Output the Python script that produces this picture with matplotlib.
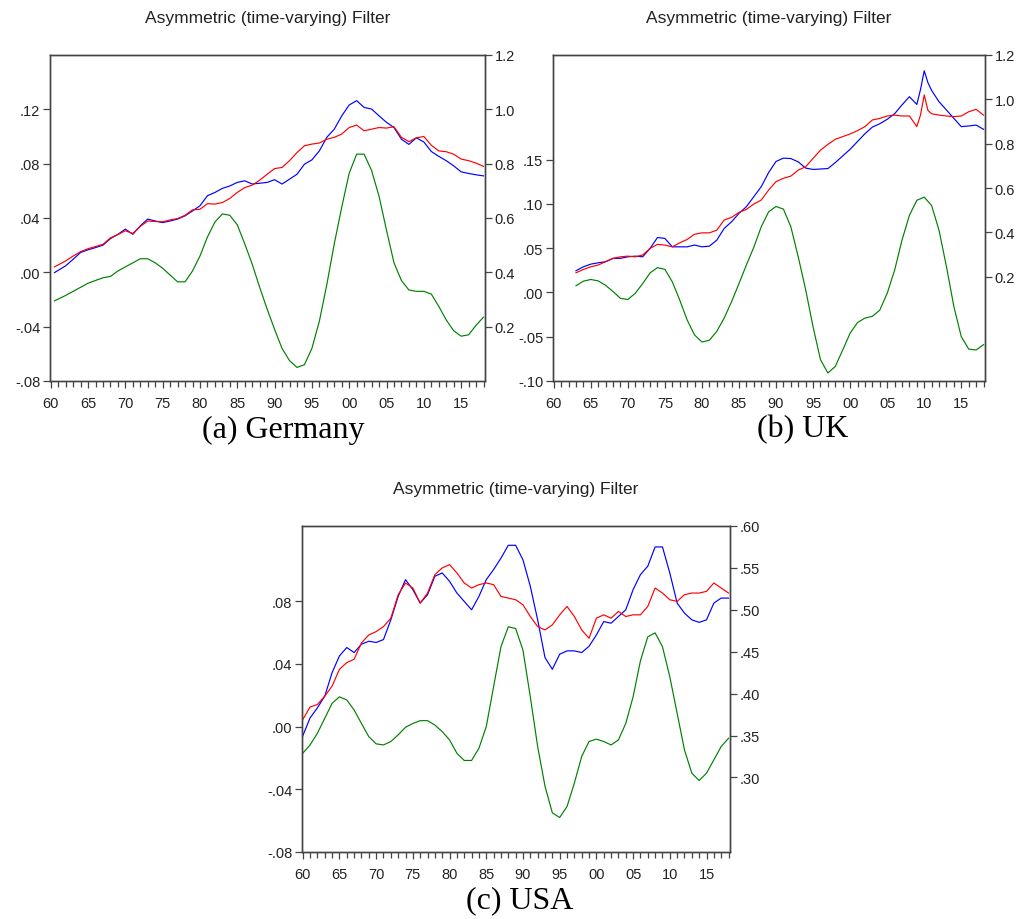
import matplotlib
matplotlib.use("Agg")
import matplotlib.pyplot as plt
from matplotlib.ticker import FixedLocator, MultipleLocator, FuncFormatter

plt.rcParams['font.family'] = ['Liberation Sans', 'DejaVu Sans']

TITLE = "Asymmetric (time-varying) Filter"

# ---- (a) Germany ----
years_a = [1960.5, 1962, 1963, 1964, 1965, 1966, 1967, 1968, 1969, 1970,
           1971, 1972, 1973, 1974, 1975, 1976, 1977, 1978, 1979, 1980,
           1981, 1982, 1983, 1984, 1985, 1986, 1987, 1988, 1989, 1990,
           1991, 1992, 1993, 1994, 1995, 1996, 1997, 1998, 1999, 2000,
           2001, 2002, 2003, 2004, 2005, 2006, 2007, 2008, 2009, 2010,
           2011, 2012, 2013, 2014, 2015, 2016, 2017, 2018]
cycle_a = [-0.021, -0.017, -0.014, -0.011, -0.008, -0.006, -0.004, -0.003, 0.001, 0.004,
           0.007, 0.010, 0.010, 0.007, 0.003, -0.002, -0.007, -0.007, 0.001, 0.012,
           0.026, 0.037, 0.043, 0.042, 0.035, 0.021, 0.006, -0.011, -0.027, -0.042,
           -0.056, -0.065, -0.070, -0.068, -0.056, -0.036, -0.009, 0.021, 0.048, 0.073,
           0.087, 0.087, 0.075, 0.056, 0.031, 0.007, -0.006, -0.013, -0.014, -0.014,
           -0.016, -0.025, -0.035, -0.043, -0.047, -0.046, -0.039, -0.033]
actual_a = [0.399, 0.424, 0.448, 0.473, 0.483, 0.491, 0.500, 0.524, 0.540, 0.559,
            0.540, 0.571, 0.596, 0.589, 0.583, 0.589, 0.596, 0.608, 0.626, 0.645,
            0.682, 0.694, 0.709, 0.718, 0.731, 0.737, 0.725, 0.728, 0.731, 0.741,
            0.725, 0.743, 0.761, 0.798, 0.814, 0.847, 0.897, 0.927, 0.976, 1.016,
            1.032, 1.007, 1.001, 0.976, 0.952, 0.933, 0.890, 0.871, 0.895, 0.880,
            0.845, 0.827, 0.811, 0.792, 0.770, 0.764, 0.759, 0.755]
trend_a = [0.420, 0.442, 0.460, 0.476, 0.487, 0.495, 0.503, 0.527, 0.539, 0.553,
           0.543, 0.569, 0.589, 0.587, 0.586, 0.593, 0.598, 0.610, 0.630, 0.632,
           0.653, 0.651, 0.657, 0.672, 0.694, 0.712, 0.721, 0.739, 0.761, 0.782,
           0.786, 0.811, 0.841, 0.866, 0.872, 0.876, 0.890, 0.897, 0.909, 0.933,
           0.942, 0.921, 0.927, 0.933, 0.931, 0.936, 0.897, 0.881, 0.895, 0.900,
           0.868, 0.847, 0.844, 0.835, 0.817, 0.811, 0.802, 0.790]

# ---- (b) UK ----
years_b_cycle = [1963, 1964, 1965, 1966, 1967, 1968, 1969, 1970, 1971, 1972,
                 1973, 1974, 1975, 1976, 1977, 1978, 1979, 1980, 1981, 1982,
                 1983, 1984, 1985, 1986, 1987, 1988, 1989, 1990, 1991, 1992,
                 1993, 1994, 1995, 1996, 1997, 1998, 1999, 2000, 2001, 2002,
                 2003, 2004, 2005, 2006, 2007, 2008, 2009, 2010, 2011, 2012,
                 2013, 2014, 2015, 2016, 2017, 2018]
cycle_b = [0.0075, 0.0127, 0.0146, 0.013, 0.008, 0.001, -0.0067, -0.008, -0.001, 0.010,
           0.022, 0.028, 0.026, 0.012, -0.0086, -0.031, -0.048, -0.056, -0.054, -0.044,
           -0.029, -0.0105, 0.010, 0.031, 0.051, 0.074, 0.091, 0.097, 0.094, 0.074,
           0.040, 0.003, -0.039, -0.076, -0.091, -0.0835, -0.065, -0.046, -0.034, -0.029,
           -0.027, -0.020, -0.001, 0.025, 0.059, 0.087, 0.104, 0.1075, 0.098, 0.070,
           0.029, -0.016, -0.050, -0.064, -0.065, -0.059]
years_b = [1963, 1964, 1965, 1966, 1967, 1968, 1969, 1970, 1971, 1972,
           1973, 1974, 1975, 1976, 1977, 1978, 1979, 1980, 1981, 1982,
           1983, 1984, 1985, 1986, 1987, 1988, 1989, 1990, 1991, 1992,
           1993, 1994, 1995, 1996, 1997, 1998, 1999, 2000, 2001, 2002,
           2003, 2004, 2005, 2006, 2007, 2008, 2009, 2009.5, 2010, 2010.5,
           2011, 2012, 2013, 2014, 2015, 2016, 2017, 2018]
actual_b = [0.227, 0.245, 0.257, 0.263, 0.268, 0.283, 0.283, 0.290, 0.293, 0.290,
            0.328, 0.377, 0.373, 0.335, 0.335, 0.335, 0.343, 0.335, 0.338, 0.365,
            0.418, 0.448, 0.486, 0.516, 0.561, 0.606, 0.670, 0.720, 0.735, 0.733,
            0.718, 0.690, 0.684, 0.686, 0.688, 0.715, 0.745, 0.775, 0.810, 0.845,
            0.875, 0.890, 0.910, 0.935, 0.975, 1.012, 0.977, 1.045, 1.129, 1.075,
            1.040, 0.989, 0.952, 0.914, 0.877, 0.880, 0.884, 0.865]
trend_b = [0.218, 0.233, 0.245, 0.253, 0.268, 0.283, 0.290, 0.293, 0.290, 0.298,
           0.328, 0.346, 0.343, 0.335, 0.353, 0.368, 0.392, 0.398, 0.398, 0.410,
           0.456, 0.468, 0.490, 0.504, 0.528, 0.546, 0.591, 0.629, 0.644, 0.654,
           0.681, 0.696, 0.734, 0.771, 0.797, 0.820, 0.832, 0.844, 0.859, 0.877,
           0.907, 0.914, 0.925, 0.929, 0.925, 0.925, 0.877, 0.930, 1.020, 0.950,
           0.935, 0.929, 0.925, 0.922, 0.925, 0.944, 0.955, 0.929]

# ---- (c) USA ----
years_c = [1960, 1961, 1962, 1963, 1964, 1965, 1966, 1967, 1968, 1969,
           1970, 1971, 1972, 1973, 1974, 1975, 1976, 1977, 1978, 1979,
           1980, 1981, 1982, 1983, 1984, 1985, 1986, 1987, 1988, 1989,
           1990, 1991, 1992, 1993, 1994, 1995, 1996, 1997, 1998, 1999,
           2000, 2001, 2002, 2003, 2004, 2005, 2006, 2007, 2008, 2009,
           2010, 2011, 2012, 2013, 2014, 2015, 2016, 2017, 2018]
cycle_c = [-0.017, -0.0117, -0.0042, 0.0053, 0.0149, 0.019, 0.017, 0.0106, 0.002, -0.0064,
           -0.011, -0.0117, -0.0095, -0.0053, -0.0004, 0.002, 0.0038, 0.0038, 0.001, -0.0032,
           -0.0085, -0.017, -0.0216, -0.0216, -0.0138, 0.000, 0.0255, 0.051, 0.0637, 0.0626,
           0.0488, 0.019, -0.0127, -0.038, -0.055, -0.058, -0.051, -0.036, -0.019, -0.0095,
           -0.008, -0.0095, -0.0117, -0.0085, 0.002, 0.019, 0.042, 0.0573, 0.0598, 0.051,
           0.0318, 0.0085, -0.0149, -0.0297, -0.0344, -0.0297, -0.0212, -0.0127, -0.0074]
actual_c = [0.3495, 0.371, 0.383, 0.397, 0.425, 0.445, 0.455, 0.449, 0.459, 0.4625,
            0.461, 0.4645, 0.488, 0.516, 0.536, 0.524, 0.508, 0.518, 0.540, 0.544,
            0.534, 0.520, 0.510, 0.500, 0.516, 0.536, 0.548, 0.5616, 0.577, 0.577,
            0.5596, 0.528, 0.488, 0.443, 0.429, 0.447, 0.451, 0.451, 0.449, 0.4565,
            0.470, 0.486, 0.484, 0.492, 0.500, 0.524, 0.542, 0.552, 0.575, 0.575,
            0.544, 0.508, 0.496, 0.488, 0.485, 0.488, 0.508, 0.514, 0.514]
trend_c = [0.369, 0.384, 0.387, 0.397, 0.409, 0.429, 0.437, 0.441, 0.4605, 0.470,
           0.474, 0.480, 0.490, 0.518, 0.532, 0.526, 0.508, 0.520, 0.542, 0.550,
           0.554, 0.544, 0.532, 0.526, 0.530, 0.532, 0.530, 0.516, 0.514, 0.512,
           0.506, 0.492, 0.480, 0.476, 0.482, 0.494, 0.504, 0.492, 0.476, 0.466,
           0.490, 0.494, 0.490, 0.498, 0.492, 0.494, 0.494, 0.504, 0.526, 0.520,
           0.512, 0.510, 0.518, 0.520, 0.520, 0.522, 0.532, 0.526, 0.520]

W, H = 1027, 920
fig = plt.figure(figsize=(W / 100, H / 100), dpi=100)

AXIS_COL = "#444444"
TEXT_COL = "#222222"


def dot_fmt(v, pos):
    # EViews style: .08, -.04
    s = f"{v:.2f}"
    return s.replace("0.", ".", 1)


def one_dec(v, pos):
    return f"{v:.1f}"


def year_fmt(v, pos):
    return f"{int(round(v)) % 100:02d}"


def style_axis(ax):
    for sp in ax.spines.values():
        sp.set_color(AXIS_COL)
        sp.set_linewidth(1.0)
    ax.tick_params(colors=AXIS_COL, labelcolor=TEXT_COL, labelsize=10.5, width=0.9)


def panel(px, yrs_cyc, cyc, yrs, act, trd, llim, lticks, lfmt, rlim, rticks, rfmt,
          caption, cap_x, cap_y):
    x0, y0, x1, y1 = px
    ax = fig.add_axes([x0 / W, 1 - y1 / H, (x1 - x0) / W, (y1 - y0) / H])
    ax.plot(yrs_cyc, cyc, color="#008000", lw=0.85)
    ax.set_xlim(1959.9, 2018.2)
    ax.set_ylim(*llim)
    ax.yaxis.set_major_locator(FixedLocator(lticks))
    ax.yaxis.set_major_formatter(FuncFormatter(lfmt))
    ax.xaxis.set_major_locator(MultipleLocator(5))
    ax.xaxis.set_minor_locator(MultipleLocator(1))
    ax.xaxis.set_major_formatter(FuncFormatter(year_fmt))
    style_axis(ax)
    ax.tick_params(axis="x", which="major", direction="out", length=5, pad=6)
    ax.tick_params(axis="x", which="minor", direction="out", length=4, width=0.9,
                   color=AXIS_COL)
    ax.tick_params(axis="y", direction="out", length=5, pad=2)

    ax2 = ax.twinx()
    ax2.plot(yrs, act, color="#0000ff", lw=0.85)
    ax2.plot(yrs, trd, color="#ff0000", lw=0.85)
    ax2.set_ylim(*rlim)
    ax2.yaxis.set_major_locator(FixedLocator(rticks))
    ax2.yaxis.set_major_formatter(FuncFormatter(rfmt))
    style_axis(ax2)
    ax2.tick_params(axis="y", direction="out", length=5, pad=2)

    fig.text((x0 + x1) / 2 / W, 1 - (y0 - 37) / H, TITLE, ha="center", va="center",
             fontsize=12.5, color=TEXT_COL)
    fig.text(cap_x / W, 1 - cap_y / H, caption, ha="center", va="center",
             fontsize=23, family=["Liberation Serif", "DejaVu Serif"], color="black")


panel((50, 56, 485, 382), years_a, cycle_a, years_a, actual_a, trend_a,
      (-0.08, 0.16), [-0.08, -0.04, 0.0, 0.04, 0.08, 0.12], dot_fmt,
      (0.0, 1.2), [0.2, 0.4, 0.6, 0.8, 1.0, 1.2], one_dec,
      "(a) Germany", 283, 430)

panel((553, 56, 985, 382), years_b_cycle, cycle_b, years_b, actual_b, trend_b,
      (-0.10, 0.268), [-0.10, -0.05, 0.0, 0.05, 0.10, 0.15], dot_fmt,
      (-0.27, 1.2), [0.2, 0.4, 0.6, 0.8, 1.0, 1.2], one_dec,
      "(b) UK", 803, 430)

panel((302, 527, 730, 853), years_c, cycle_c, years_c, actual_c, trend_c,
      (-0.08, 0.128), [-0.08, -0.04, 0.0, 0.04, 0.08], dot_fmt,
      (0.211, 0.60), [0.30, 0.35, 0.40, 0.45, 0.50, 0.55, 0.60], dot_fmt,
      "(c) USA", 520, 901)

fig.savefig("out.png", dpi=100, facecolor="white")
